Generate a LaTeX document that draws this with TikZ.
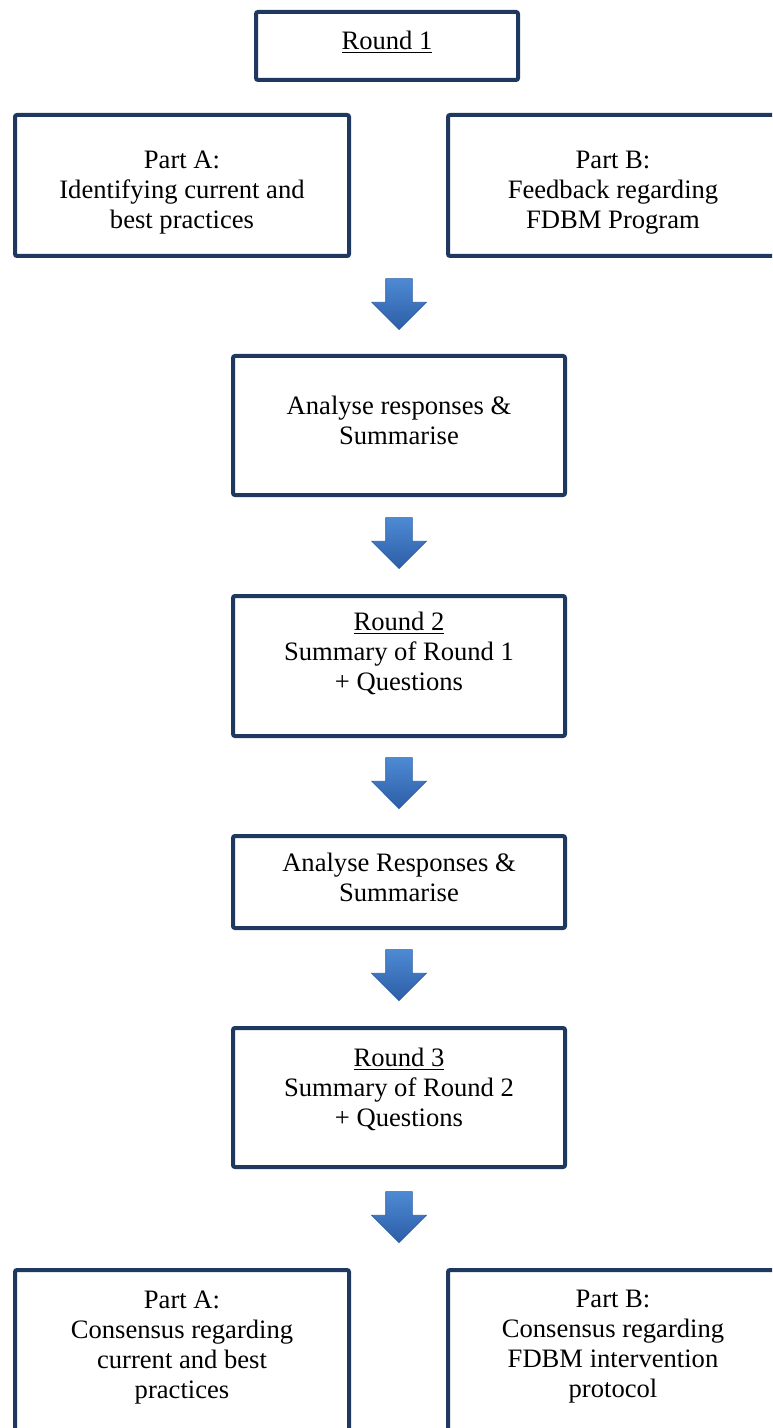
\documentclass[tikz,border=0pt]{standalone}
\usepackage{fontspec}
\setmainfont{Liberation Serif}
\usetikzlibrary{calc,positioning,shapes.arrows}
\definecolor{boxnavy}{RGB}{31,56,96}
\definecolor{arrowtop}{RGB}{78,138,212}
\definecolor{arrowbot}{RGB}{44,94,166}
\newcommand\padbelow[1]{\rule[-#1]{0pt}{#1}}
\newcommand\padabove[1]{\rule{0pt}{#1}}
\tikzset{
  box/.style={draw=boxnavy, line width=2pt, rounded corners=1pt, fill=white, align=center, inner sep=4pt, font=\fontsize{13.3}{15}\selectfont},
  wbox/.style={box, minimum width=167pt, minimum height=70.5pt},
  cbox/.style={box, minimum width=166pt},
  txt/.style={align=center, font=\fontsize{13.3}{15}\selectfont},
  downarrow/.style={single arrow, shape border rotate=270, text width=13pt, inner sep=0pt, minimum height=25.5pt, single arrow head extend=7pt, top color=arrowtop, bottom color=arrowbot, draw=arrowbot, line width=0.3pt, anchor=tip},
}

\begin{document}
\begin{tikzpicture}[x=0.5pt, y=-0.5pt]
\path[use as bounding box, clip] (0,0) rectangle (772,1428);

\node[box, minimum width=131pt, minimum height=34pt] (round1) at (387,46) {\underline{Round 1}\padbelow{5.5pt}};
\node[wbox] (partA) at (182,185.5) {\padabove{16pt}Part A:\\Identifying current and\\best practices};
\node[wbox, minimum width=165pt] (partB) at (613,185.5) {\padabove{16pt}Part B:\\Feedback regarding\\FDBM Program};

\node[cbox, minimum height=69.5pt] (analyse1) at (399,425.5) {Analyse responses \&\\Summarise\padbelow{5pt}};
\node[cbox, minimum height=70pt] (round2) at (399,666) {\underline{Round 2}\\Summary of Round 1\\+ Questions\padbelow{14.5pt}};
\node[cbox, minimum height=46pt] (analyse2) at (399,882) {Analyse Responses \&\\Summarise\padbelow{4.5pt}};
\node[cbox, minimum height=69.5pt] (round3) at (399,1097.5) {\underline{Round 3}\\Summary of Round 2\\+ Questions\padbelow{10.5pt}};

\node[box, anchor=north, minimum width=167pt, minimum height=100pt,
  label={[txt, yshift=11pt]center:Part A:\\Consensus regarding\\current and best\\practices}] (consA) at (182,1268) {};
\node[box, anchor=north, minimum width=165pt, minimum height=100pt,
  label={[txt, yshift=11.5pt]center:Part B:\\Consensus regarding\\FDBM intervention\\protocol}] (consB) at (613,1268) {};

\node[downarrow] (arr1) at ([yshift=12pt]analyse1.north) {};
\node[downarrow] (arr2) at ([yshift=12.5pt]round2.north) {};
\node[downarrow] (arr3) at ([yshift=12.5pt]analyse2.north) {};
\node[downarrow] (arr4) at ([yshift=12.5pt]round3.north) {};
\node[downarrow] (arr5) at ([yshift=12.5pt]round3.south |- consA.north) {};
\end{tikzpicture}
\end{document}
